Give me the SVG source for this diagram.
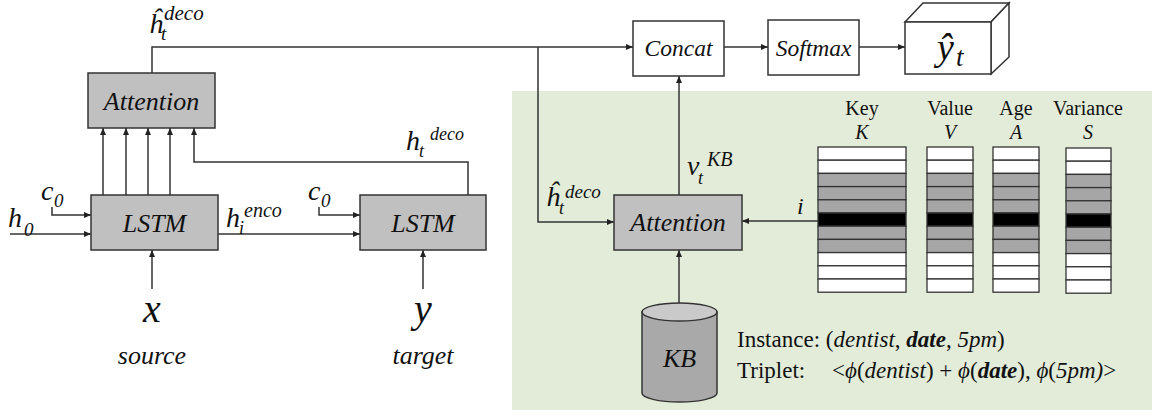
<svg xmlns="http://www.w3.org/2000/svg" width="1152" height="414" viewBox="0 0 1152 414">
<style>
text{font-family:'Liberation Serif',Tinos,'Nimbus Roman','Nimbus Roman No9 L','Times New Roman',Times,FreeSerif,'Noto Serif','DejaVu Serif',Georgia,serif;fill:#111}
.it{font-style:italic}
.box{fill:#c0c0c0;stroke:#333;stroke-width:1.5}
.wbox{fill:#fff;stroke:#333;stroke-width:1.5}
.ln{fill:none;stroke:#333;stroke-width:1.5}
.arr{marker-end:url(#ah)}
.rw{fill:#fff;stroke:#333;stroke-width:1.3}
.rg{fill:#a6a6a6;stroke:#333;stroke-width:1.3}
.rb{fill:#000;stroke:#333;stroke-width:1.3}
</style>
<defs>
<marker id="ah" markerUnits="userSpaceOnUse" markerWidth="7" markerHeight="6" refX="7" refY="3" orient="auto">
<path d="M0,0 L7,3 L0,6 z" fill="#222"/>
</marker>
</defs>
<rect x="512" y="91" width="640" height="319" fill="#e2ecd9"/>

<g id="connectors">
<path class="ln arr" d="M152,73 V47 H633"/>
<path class="ln arr" d="M538,47 V222 H614"/>
<path class="ln arr" d="M103,195 V128"/>
<path class="ln arr" d="M126,195 V128"/>
<path class="ln arr" d="M148,195 V128"/>
<path class="ln arr" d="M170,195 V128"/>
<path class="ln arr" d="M468,195 V162 H194 V128"/>
<path class="ln arr" d="M10,234 H91"/>
<path class="ln arr" d="M52,207 V215 H91"/>
<path class="ln arr" d="M319,207 V215 H360"/>
<path class="ln arr" d="M218,234 H360"/>
<path class="ln arr" d="M152,289 V250"/>
<path class="ln arr" d="M423,289 V250"/>
<path class="ln arr" d="M724,47 H768"/>
<path class="ln arr" d="M859,47 H905"/>
<path class="ln arr" d="M679,195 V76"/>
<path class="ln arr" d="M819,221 H742"/>
<path class="ln arr" d="M679,303 V250"/>
</g>

<g id="attention-top">
<rect class="box" x="88" y="73" width="127" height="55"/>
<text class="it" x="151.5" y="110" font-size="26" text-anchor="middle">Attention</text>
</g>
<g id="lstm-enc">
<rect class="box" x="91" y="195" width="127" height="55"/>
<text class="it" x="154.5" y="232" font-size="26" text-anchor="middle">LSTM</text>
</g>
<g id="lstm-dec">
<rect class="box" x="360" y="195" width="126" height="55"/>
<text class="it" x="423" y="232" font-size="26" text-anchor="middle">LSTM</text>
</g>
<g id="concat">
<rect class="wbox" x="633" y="21" width="91" height="55"/>
<text class="it" x="678.5" y="56" font-size="23.5" text-anchor="middle">Concat</text>
</g>
<g id="softmax">
<rect class="wbox" x="768" y="20" width="91" height="55"/>
<text class="it" x="813.5" y="56" font-size="23.5" text-anchor="middle">Softmax</text>
</g>
<g id="output">
<path class="wbox" d="M905,22 L923,3 H1009 L991,22 Z"/>
<path class="wbox" d="M991,22 L1009,3 V57 L991,74 Z"/>
<rect class="wbox" x="905" y="22" width="86" height="52"/>
<text class="it" x="937" y="60" font-size="38">ŷ</text>
<text class="it" x="956" y="66" font-size="27">t</text>
</g>
<g id="attention-kb">
<rect class="box" x="614" y="195" width="128" height="55"/>
<text class="it" x="678" y="231" font-size="26" text-anchor="middle">Attention</text>
</g>
<g id="kb">
<path d="M642,312 V393 A37.5,9 0 0 0 717,393 V312 Z" fill="#a9a9a9" stroke="#333" stroke-width="1.5"/>
<ellipse cx="679.5" cy="312" rx="37.5" ry="9" fill="#cacaca" stroke="#333" stroke-width="1.5"/>
<text class="it" x="679.5" y="367" font-size="26" text-anchor="middle">KB</text>
</g>

<g id="labels">
<text class="it" x="149" y="33" font-size="28">ĥ</text>
<text class="it" x="161" y="40" font-size="19">t</text>
<text class="it" x="164" y="20" font-size="21">deco</text>

<text class="it" x="406" y="150" font-size="28">h</text>
<text class="it" x="419" y="157" font-size="18">t</text>
<text class="it" x="430" y="140" font-size="18">deco</text>

<text class="it" x="8" y="227" font-size="28">h</text>
<text class="it" x="24" y="236" font-size="19">0</text>

<text class="it" x="41" y="200" font-size="28">c</text>
<text class="it" x="54" y="207" font-size="19">0</text>

<text class="it" x="308" y="200" font-size="28">c</text>
<text class="it" x="321" y="207" font-size="19">0</text>

<text class="it" x="226" y="227" font-size="28">h</text>
<text class="it" x="239" y="234" font-size="18">i</text>
<text class="it" x="244" y="217" font-size="20">enco</text>

<text class="it" x="152" y="322" font-size="40" text-anchor="middle">x</text>
<text class="it" x="152" y="364" font-size="26" text-anchor="middle">source</text>
<text class="it" x="423" y="322" font-size="40" text-anchor="middle">y</text>
<text class="it" x="423" y="364" font-size="26" text-anchor="middle">target</text>

<text class="it" x="546" y="206" font-size="28">ĥ</text>
<text class="it" x="559" y="214" font-size="18">t</text>
<text class="it" x="565" y="198" font-size="19">deco</text>

<text class="it" x="687" y="175" font-size="28">v</text>
<text class="it" x="698" y="184" font-size="18">t</text>
<text class="it" x="707" y="166" font-size="20">KB</text>

<text class="it" x="797" y="214" font-size="24">i</text>

<text x="862" y="115" font-size="20" text-anchor="middle">Key</text>
<text class="it" x="862" y="139" font-size="20" text-anchor="middle">K</text>
<text x="950" y="115" font-size="20" text-anchor="middle">Value</text>
<text class="it" x="950" y="139" font-size="20" text-anchor="middle">V</text>
<text x="1016" y="115" font-size="20" text-anchor="middle">Age</text>
<text class="it" x="1016" y="139" font-size="20" text-anchor="middle">A</text>
<text x="1088" y="115" font-size="20" text-anchor="middle">Variance</text>
<text class="it" x="1088" y="139" font-size="20" text-anchor="middle">S</text>

<text x="737" y="347" font-size="23">Instance: (<tspan class="it">dentist</tspan>, <tspan class="it" font-weight="bold">date</tspan>, <tspan class="it">5pm</tspan>)</text>
<text x="737" y="378" font-size="23">Triplet:</text>
<text x="832" y="378" font-size="23">&lt;<tspan class="it">ϕ</tspan>(<tspan class="it">dentist</tspan>) + <tspan class="it">ϕ</tspan>(<tspan class="it" font-weight="bold">date</tspan>), <tspan class="it">ϕ</tspan>(<tspan class="it">5pm)</tspan>&gt;</text>
</g>

<g id="memory-key">
<rect class="rw" x="818" y="147" width="88" height="13.2"/>
<rect class="rw" x="818" y="160.2" width="88" height="13.2"/>
<rect class="rg" x="818" y="173.4" width="88" height="13.2"/>
<rect class="rg" x="818" y="186.6" width="88" height="13.2"/>
<rect class="rg" x="818" y="199.8" width="88" height="13.2"/>
<rect class="rb" x="818" y="213" width="88" height="13.2"/>
<rect class="rg" x="818" y="226.2" width="88" height="13.2"/>
<rect class="rg" x="818" y="239.4" width="88" height="13.2"/>
<rect class="rw" x="818" y="252.6" width="88" height="13.2"/>
<rect class="rw" x="818" y="265.8" width="88" height="13.2"/>
<rect class="rw" x="818" y="279" width="88" height="13.2"/>
</g>
<g id="memory-value">
<rect class="rw" x="927" y="147" width="46" height="13.2"/>
<rect class="rw" x="927" y="160.2" width="46" height="13.2"/>
<rect class="rg" x="927" y="173.4" width="46" height="13.2"/>
<rect class="rg" x="927" y="186.6" width="46" height="13.2"/>
<rect class="rg" x="927" y="199.8" width="46" height="13.2"/>
<rect class="rb" x="927" y="213" width="46" height="13.2"/>
<rect class="rg" x="927" y="226.2" width="46" height="13.2"/>
<rect class="rg" x="927" y="239.4" width="46" height="13.2"/>
<rect class="rw" x="927" y="252.6" width="46" height="13.2"/>
<rect class="rw" x="927" y="265.8" width="46" height="13.2"/>
<rect class="rw" x="927" y="279" width="46" height="13.2"/>
</g>
<g id="memory-age">
<rect class="rw" x="993" y="147" width="46" height="13.2"/>
<rect class="rw" x="993" y="160.2" width="46" height="13.2"/>
<rect class="rg" x="993" y="173.4" width="46" height="13.2"/>
<rect class="rg" x="993" y="186.6" width="46" height="13.2"/>
<rect class="rg" x="993" y="199.8" width="46" height="13.2"/>
<rect class="rb" x="993" y="213" width="46" height="13.2"/>
<rect class="rg" x="993" y="226.2" width="46" height="13.2"/>
<rect class="rg" x="993" y="239.4" width="46" height="13.2"/>
<rect class="rw" x="993" y="252.6" width="46" height="13.2"/>
<rect class="rw" x="993" y="265.8" width="46" height="13.2"/>
<rect class="rw" x="993" y="279" width="46" height="13.2"/>
</g>
<g id="memory-variance">
<rect class="rw" x="1066" y="148" width="45" height="13.2"/>
<rect class="rw" x="1066" y="161.2" width="45" height="13.2"/>
<rect class="rg" x="1066" y="174.4" width="45" height="13.2"/>
<rect class="rg" x="1066" y="187.6" width="45" height="13.2"/>
<rect class="rg" x="1066" y="200.8" width="45" height="13.2"/>
<rect class="rb" x="1066" y="214" width="45" height="13.2"/>
<rect class="rg" x="1066" y="227.2" width="45" height="13.2"/>
<rect class="rg" x="1066" y="240.4" width="45" height="13.2"/>
<rect class="rw" x="1066" y="253.6" width="45" height="13.2"/>
<rect class="rw" x="1066" y="266.8" width="45" height="13.2"/>
<rect class="rw" x="1066" y="280" width="45" height="13.2"/>
</g>
</svg>
